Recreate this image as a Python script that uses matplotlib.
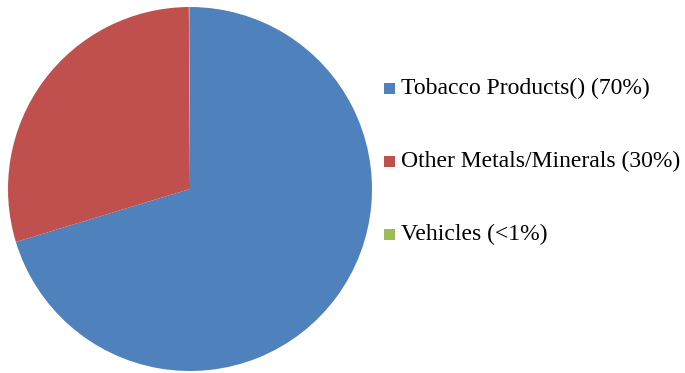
import matplotlib.pyplot as plt
from matplotlib.patches import Rectangle

labels = ["Tobacco Products() (70%)", "Other Metals/Minerals (30%)", "Vehicles (<1%)"]
shares = [70.3, 29.6, 0.1]
colors = ["#4F81BD", "#C0504D", "#9BBB59"]

W, H = 685, 373
fig = plt.figure(figsize=(W / 100, H / 100), dpi=100)

# pie box in pixels: x 8..372, y 7..371 from top
ax = fig.add_axes([8 / W, (H - 371) / H, 364 / W, 364 / H])
ax.pie(shares, colors=colors, startangle=90, counterclock=False, radius=1,
       wedgeprops=dict(linewidth=0))
ax.set_xlim(-1, 1)
ax.set_ylim(-1, 1)
ax.axis("off")

# legend drawn by hand
row_y = [88, 161, 234]
for lab, col, y in zip(labels, colors, row_y):
    fig.patches.append(Rectangle(((384) / W, (H - y - 5.5) / H), 11 / W, 11 / H,
                                 facecolor=col, edgecolor="none",
                                 transform=fig.transFigure, figure=fig))
    fig.text(401 / W, (H - y) / H, lab, fontsize=17, family="Liberation Serif",
             va="center", ha="left", color="black")

fig.savefig("out.png", dpi=100)
